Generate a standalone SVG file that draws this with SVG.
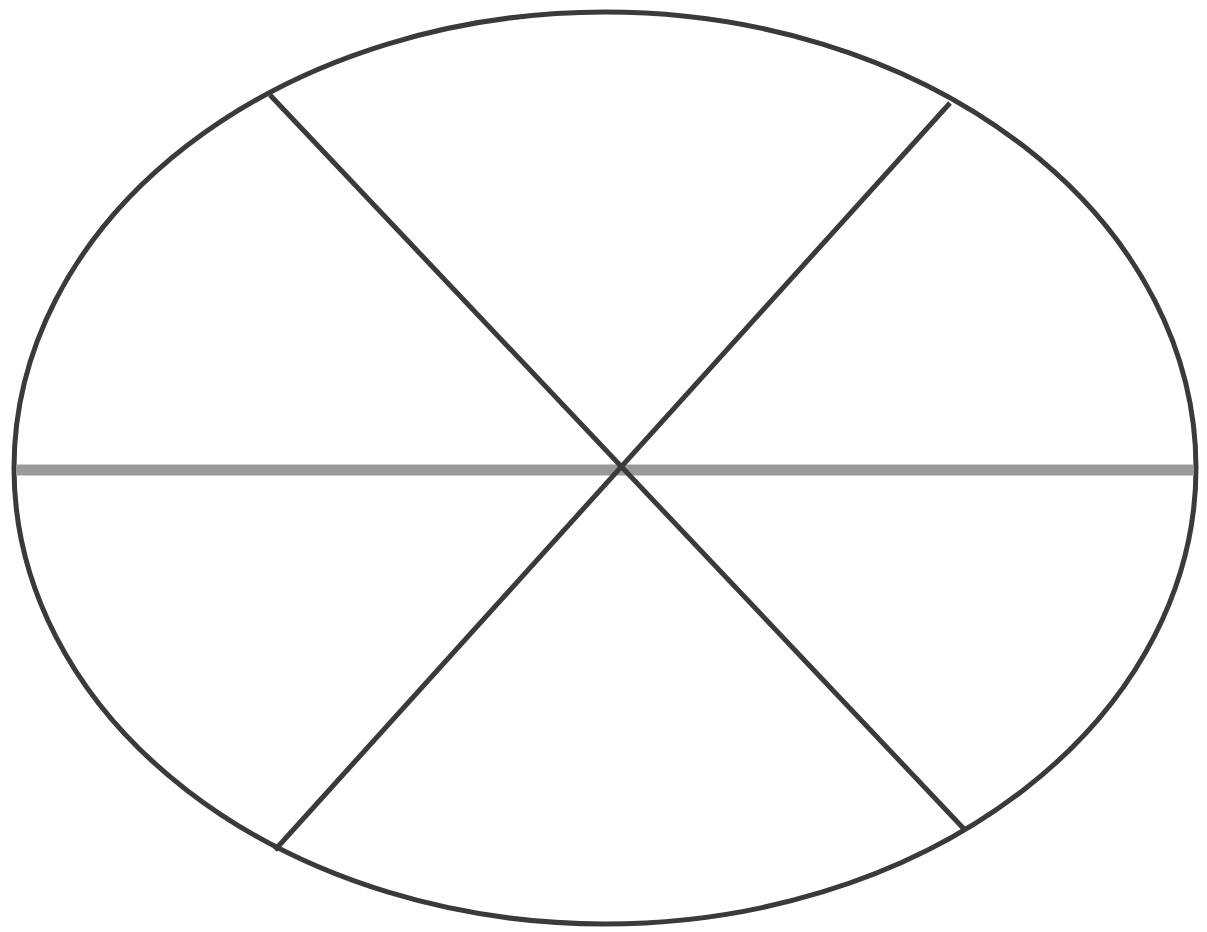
<svg xmlns="http://www.w3.org/2000/svg" width="1207" height="932" viewBox="0 0 1207 932">
<style>
.outline{fill:none;stroke:#3a3a3a;stroke-width:5}
.diag{stroke:#3a3a3a;stroke-width:5;fill:none}
.axis{stroke:#9a9a9a;stroke-width:11;fill:none}
</style>
<rect width="1207" height="932" fill="#ffffff"/>
<g id="ellipse">
<ellipse class="outline" cx="605" cy="468" rx="591" ry="456"/>
</g>
<g id="connectors">
<line class="axis" x1="16" y1="470" x2="1194" y2="470"/>
<line class="diag" x1="270" y1="95" x2="965" y2="830"/>
<line class="diag" x1="950" y1="103" x2="275" y2="850"/>
</g>
</svg>
